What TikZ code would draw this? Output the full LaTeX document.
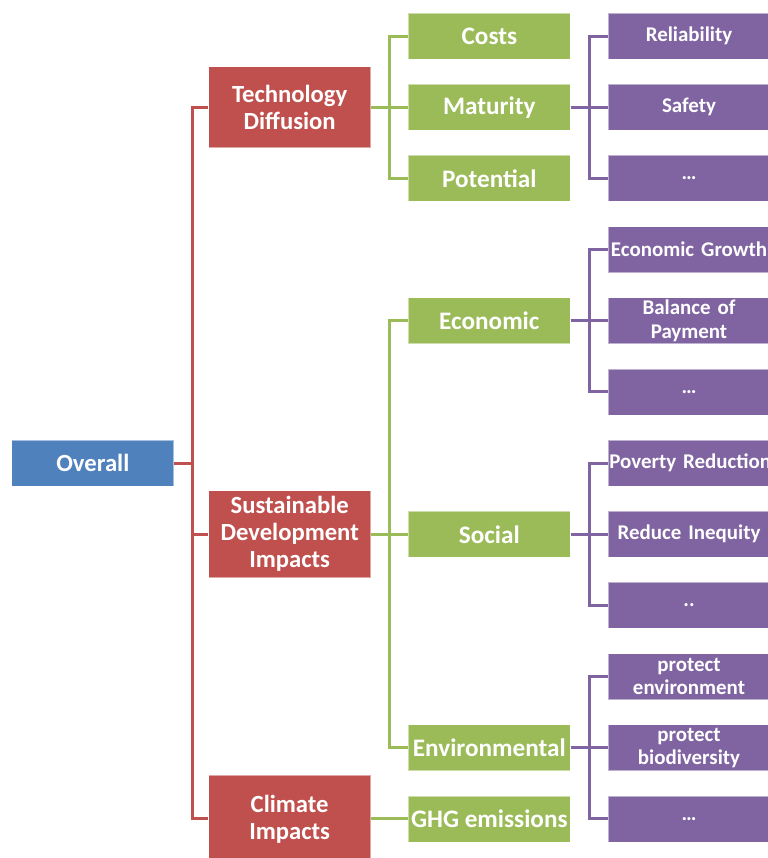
\documentclass[tikz,border=0pt]{standalone}
\usepackage{fontspec}
\setmainfont{Carlito}
\usetikzlibrary{positioning}
\definecolor{ovblue}{HTML}{4F81BD}
\definecolor{ovred}{HTML}{C0504D}
\definecolor{ovgreen}{HTML}{9BBB59}
\definecolor{ovpurple}{HTML}{8064A2}

\begin{document}
\begin{tikzpicture}[x=0.75pt, y=-0.75pt,
  box/.style={rectangle, draw=white, draw opacity=0.5, line width=0.5pt, text=white, align=center, minimum width=121.5pt, minimum height=34.5pt, inner xsep=1pt, inner ysep=0.5pt, font=\fontsize{18.5}{20.25}\selectfont\bfseries},
  topbox/.style={box, fill=ovblue},
  redbox/.style={box, fill=ovred},
  greenbox/.style={box, fill=ovgreen, font=\fontsize{18.9}{20.25}\selectfont\bfseries},
  purplebox/.style={box, fill=ovpurple, text width=119.5pt, font=\fontsize{15.7}{17.5}\selectfont\bfseries},
  link/.style={line width=2.25pt},
  node distance=27.75pt]

\useasboundingbox (0,0) rectangle (768,858);
\clip (0,0) rectangle (768,858);

% third level
\foreach \n/\t [count=\i from 0] in {rel/Reliability, saf/Safety, tdots/…, egrowth/\mbox{Economic Growth}, bal/{Balance of\\Payment}, edots/…, pov/\mbox{Poverty Reduction}, ineq/Reduce Inequity, sdots/.., penv/{protect\\environment}, pbio/{protect\\biodiversity}, vdots/…}
  \node[purplebox] (\n) at (689, 36+71.18*\i) {\t};

% second level
\node[greenbox, left=of rel] (costs) {Costs};
\node[greenbox, left=of saf] (maturity) {Maturity};
\node[greenbox, left=of tdots] (potential) {Potential};
\node[greenbox, left=of bal] (economic) {Economic};
\node[greenbox, left=of ineq] (social) {Social};
\node[greenbox, left=of pbio] (environmental) {Environmental};
\node[greenbox, left=of vdots] (ghg) {GHG emissions};

% first level
\node[redbox, left=of maturity, minimum height=60.75pt] (tech) {Technology\\Diffusion};
\node[redbox, left=of social, minimum height=65.25pt] (sdi) {Sustainable\\Development\\Impacts};
\node[redbox, left=of ghg, minimum height=66pt] (climate) {Climate\\Impacts};
\node[topbox] (overall) at (92.8, 463) {Overall};

% connectors
\foreach \c in {tech, sdi, climate}
  \draw[link, ovred] (overall.east) -- ++(18,0) |- (\c.west);
\foreach \c in {costs, maturity, potential}
  \draw[link, ovgreen] (tech.east) -- ++(18.5,0) |- (\c.west);
\foreach \c in {economic, social, environmental}
  \draw[link, ovgreen] (sdi.east) -- ++(18.5,0) |- (\c.west);
\draw[link, ovgreen] (climate) -- (ghg);
\foreach \c in {rel, saf, tdots}
  \draw[link, ovpurple] (maturity.east) -- ++(18.5,0) |- (\c.west);
\foreach \c in {egrowth, bal, edots}
  \draw[link, ovpurple] (economic.east) -- ++(18.5,0) |- (\c.west);
\foreach \c in {pov, ineq, sdots}
  \draw[link, ovpurple] (social.east) -- ++(18.5,0) |- (\c.west);
\foreach \c in {penv, pbio, vdots}
  \draw[link, ovpurple] (environmental.east) -- ++(18.5,0) |- (\c.west);

\end{tikzpicture}
\end{document}
